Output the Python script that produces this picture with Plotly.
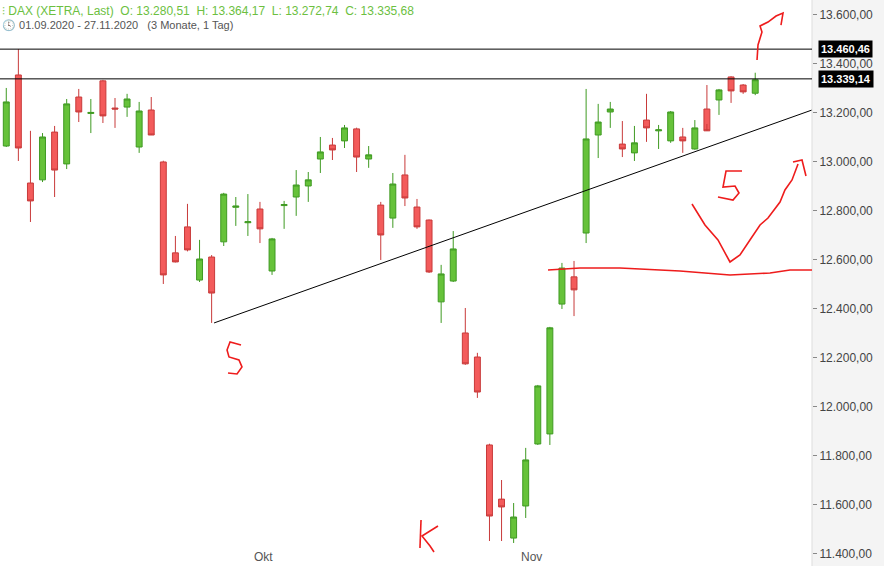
import plotly.graph_objects as go

# DAX daily candles 01.09.2020 - 27.11.2020
opens = [13065, 13355, 12914, 12927, 13122, 12992, 13265, 13198, 13331, 13220, 13224, 13061, 13212,
         13000, 12629, 12735, 12518, 12612, 12674, 12815, 12752, 12808, 12555, 12822, 12857, 12902,
         13012, 13069, 13086, 13135, 13012, 12824, 12771, 12947, 12816, 12763, 12429, 12514, 12302,
         12204, 11845, 11624, 11465, 11596, 11849, 11890, 12420, 12531, 12710, 13110, 13204, 13073,
         13037, 13171, 13127, 13086, 13102, 13053, 13216, 13253, 13347, 13314, 13280.51]
highs = [13302, 13460.46, 13127, 13118, 13147, 13257, 13298, 13257, 13335, 13261, 13278, 13245, 13265,
         13005, 12698, 12829, 12682, 12620, 12874, 12857, 12869, 12837, 12690, 12841, 12967, 12959,
         13102, 13098, 13151, 13140, 13065, 12837, 12955, 13029, 12849, 12765, 12580, 12718, 12404,
         12221, 11850, 11702, 11608, 11833, 12090, 12327, 12588, 12596, 13298, 13237, 13245, 13167,
         13147, 13278, 13151, 13208, 13139, 13171, 13314, 13298, 13350, 13318, 13364.17]
lows = [13061, 13004, 12755, 12918, 12857, 12971, 13163, 13118, 13159, 13139, 13184, 13037, 13114,
        12502, 12590, 12635, 12510, 12343, 12657, 12739, 12698, 12669, 12539, 12727, 12780, 12837,
        12955, 13008, 13057, 12959, 12976, 12600, 12731, 12820, 12727, 12547, 12343, 12510, 12172,
        12037, 11453, 11453, 11445, 11547, 11845, 11845, 12400, 12371, 12669, 13016, 13139, 13020,
        13004, 13082, 13053, 13078, 13037, 13050, 13155, 13192, 13241, 13278, 13272.74]
closes = [13245, 13057, 12841, 13102, 12967, 13237, 13204, 13202, 13188, 13216, 13257, 13208, 13110,
          12539, 12592, 12641, 12604, 12465, 12869, 12820, 12756, 12727, 12686, 12826, 12906, 12927,
          13041, 13049, 13139, 13020, 13029, 12702, 12910, 12853, 12735, 12551, 12543, 12645, 12176,
          12061, 11555, 11592, 11551, 11784, 12086, 12323, 12567, 12478, 13094, 13163, 13216, 13053,
          13078, 13139, 13131, 13204, 13086, 13139, 13127, 13294, 13290, 13286, 13335.68]
idx = list(range(len(opens)))

month_ticks = [21.3, 43.5]
month_labels = ["Okt", "Nov"]
y_ticks = list(range(11400, 13601, 200))
level_high = 13460.46
level_last = 13339.14
trend_x = [17.2, 66.7]
trend_y = [12343, 13212]

W, H, PW = 884, 566, 812

def px_path(pts):
    # hand drawn marks, given in screen pixels -> paper path
    s = ""
    for k, (x, y) in enumerate(pts):
        s += ("M" if k == 0 else "L") + f" {x / PW:.4f} {1 - y / H:.4f} "
    return s

fig = go.Figure(go.Candlestick(
    x=idx, open=opens, high=highs, low=lows, close=closes,
    increasing=dict(fillcolor="#66c23a", line=dict(color="#3f9a22", width=1)),
    decreasing=dict(fillcolor="#f35b5b", line=dict(color="#c83a3a", width=1)),
    whiskerwidth=0, hoverinfo="skip", showlegend=False,
))

fig.add_trace(go.Scatter(x=trend_x, y=trend_y, mode="lines",
                         line=dict(color="black", width=1), showlegend=False, hoverinfo="skip"))

shapes = [
    dict(type="rect", xref="paper", yref="paper", x0=1, x1=1.09, y0=0, y1=1,
         fillcolor="#f4f4f4", line_width=0, layer="below"),
    dict(type="line", xref="paper", yref="paper", x0=1, x1=1, y0=0, y1=1,
         line=dict(color="#dddddd", width=1)),
    dict(type="line", xref="paper", yref="y", x0=0, x1=1, y0=level_high, y1=level_high,
         line=dict(color="black", width=1)),
    dict(type="line", xref="paper", yref="y", x0=0, x1=1, y0=level_last, y1=level_last,
         line=dict(color="black", width=1)),
]
red = dict(color="#ee1c1c", width=1.6)
marks = [
    [(241, 345), (230, 342), (227, 350), (229, 357), (239, 360), (242, 367), (237, 374), (228, 373)],
    [(421, 520), (420, 548)],
    [(438, 526), (422, 536), (430, 546), (434, 552)],
    [(548, 270), (580, 268), (620, 268), (680, 271), (730, 275), (770, 273), (790, 270), (812, 270)],
    [(692, 204), (705, 225), (718, 240), (730, 262), (740, 255), (750, 240), (760, 225),
     (768, 218), (780, 202), (785, 190), (792, 180), (798, 164)],
    [(793, 162), (802, 160), (806, 176)],
    [(742, 171), (726, 171), (723, 187), (735, 186), (739, 193), (733, 200), (718, 197)],
    [(757, 60), (758, 45), (762, 32), (760, 26), (768, 22), (776, 16), (783, 13), (781, 25)],
]
for m in marks:
    shapes.append(dict(type="path", xref="paper", yref="paper", path=px_path(m), line=red))

ann = [
    dict(xref="paper", yref="paper", x=0.0, y=1 - 11 / H, xanchor="left", yanchor="middle",
         showarrow=False, font=dict(family="Arial", size=12, color="#6cbf3f"),
         text="⫶ DAX (XETRA, Last)  O: 13.280,51  H: 13.364,17  L: 13.272,74  C: 13.335,68"),
    dict(xref="paper", yref="paper", x=0.0, y=1 - 26 / H, xanchor="left", yanchor="middle",
         showarrow=False, font=dict(family="Arial", size=11, color="#555555"),
         text="🕓 01.09.2020 - 27.11.2020   (3 Monate, 1 Tag)"),
]
for v, t in [(level_high, "13.460,46"), (level_last, "13.339,14")]:
    ann.append(dict(xref="paper", yref="y", x=1.008, y=v, xanchor="left", yanchor="middle",
                    showarrow=False, text=f"<b>{t}</b>", bgcolor="black", borderpad=2,
                    font=dict(family="Arial", size=11, color="white")))
for xv, t in zip(month_ticks, month_labels):
    ann.append(dict(x=xv, xref="x", yref="paper", y=0, yanchor="bottom", showarrow=False, text=t,
                    font=dict(family="Arial", size=12, color="#555555")))

fig.update_layout(
    width=W, height=H, margin=dict(l=0, r=W - PW, t=0, b=0),
    paper_bgcolor="white", plot_bgcolor="white", separators=",.",
    xaxis=dict(range=[-0.52, 66.7], showgrid=False, showticklabels=False, zeroline=False,
               rangeslider=dict(visible=False), fixedrange=True),
    yaxis=dict(range=[11351, 13661], side="right", tickvals=y_ticks, tickformat=",.2f",
               showgrid=False, zeroline=False, ticks="outside", ticklen=4, tickcolor="#888888",
               tickfont=dict(family="Arial", size=12, color="#444444")),
    shapes=shapes, annotations=ann,
)

fig.write_html("out.html", config={"displayModeBar": False},
               post_script="document.body.style.margin='0';")
